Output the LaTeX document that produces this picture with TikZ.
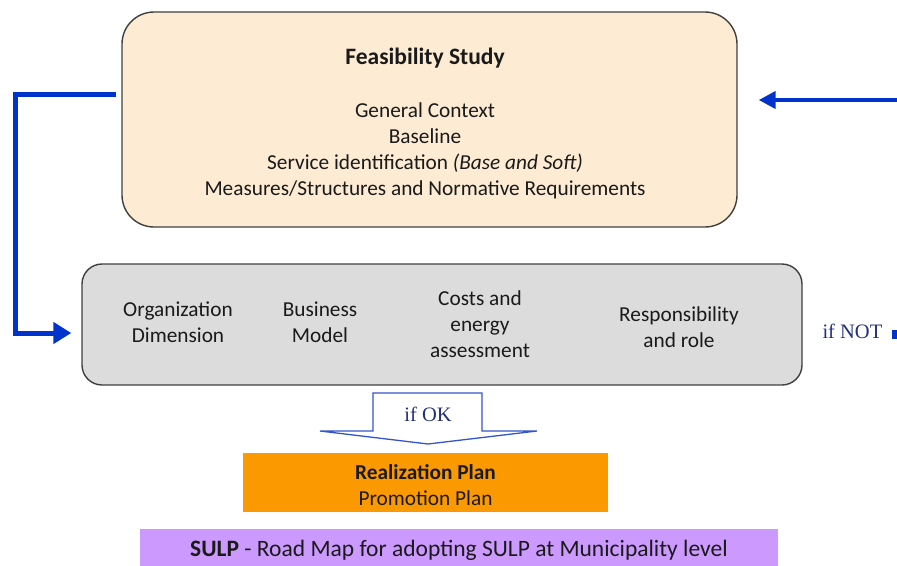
\documentclass[tikz,border=0pt]{standalone}
\usepackage{fontspec}
\setmainfont{Carlito}
\newfontfamily\serifnote{Liberation Serif}
\usetikzlibrary{arrows.meta,positioning}
\definecolor{peach}{HTML}{FDEBD4}
\definecolor{panelgray}{HTML}{DCDCDC}
\definecolor{planorange}{HTML}{FB9A00}
\definecolor{lavender}{HTML}{CC99FF}
\definecolor{flowblue}{HTML}{0033CC}
\definecolor{outlineblue}{HTML}{3355CC}
\definecolor{notenavy}{HTML}{22307A}
\definecolor{textdark}{HTML}{1A1A1A}
\tikzset{
  stagebox/.style={draw=black!75, line width=1.4pt, inner sep=0pt, text=textdark},
  body/.style={font=\fontsize{21.3}{26}\selectfont, align=center, text=textdark},
  flow/.style={draw=flowblue, line width=5pt},
  note/.style={font=\serifnote\fontsize{20.5}{22}\selectfont, text=notenavy},
}
\begin{document}
\begin{tikzpicture}[x=1pt,y=-1pt]
\useasboundingbox (0,0) rectangle (897,565);

% feasibility study panel
\node[stagebox, fill=peach, rounded corners=32pt, minimum width=615pt, minimum height=215pt]
  (fs) at (429.5,119.5) {};
\node[font=\bfseries\fontsize{23.5}{26}\selectfont, text=textdark] (fstitle) at (425,58) {Feasibility Study};
\node[body] (fsbody) at (425,151) {General Context\\Baseline\\Service identification \textit{(Base and Soft)}\\Measures/Structures and Normative Requirements};

% assessment dimensions panel
\node[stagebox, fill=panelgray, rounded corners=20pt, minimum width=720pt, minimum height=121pt]
  (dim) at (442,324.5) {};
\node[body] (org) at (178,322) {Organization\\Dimension};
\node[body] (biz) at (320,322) {Business\\Model};
\node[body] (cost) at (480,324) {Costs and\\energy\\assessment};
\node[body] (resp) at (679,327) {Responsibility\\and role};

% feedback loops
\coordinate (fsout) at (116,94);
\coordinate (leftrail) at (15,94);
\draw[flow, -{Triangle[length=18pt,width=21pt]}, line join=miter]
  (fsout) -- (leftrail) |- ([xshift=-10pt]dim.west |- 0,333);
\coordinate (retin) at (897,100);
\draw[draw=flowblue, line width=4pt, -{Triangle[length=17pt,width=17pt]}]
  (retin) -- ([xshift=21pt]fs.east |- retin);
\node[note, anchor=west] (ifnot) at (819,331) {if NOT};
\fill[flowblue] (892,330) rectangle (897,339);

% "if OK" block arrow
\draw[outlineblue, line width=1.3pt, fill=white, line join=miter]
  (373,431) -- (373,393) -- (482,393) -- (482,431) -- (537,431) -- (428,444) -- (320,431) -- cycle;
\node[note] (ifok) at (428,414) {if OK};

% plans
\node[fill=planorange, minimum width=365pt, minimum height=59pt, inner sep=0pt] (plan) at (425.5,482.5) {};
\node[body] (plantext) at (425.5,485) {\textbf{Realization Plan}\\Promotion Plan};
\node[fill=lavender, minimum width=638pt, minimum height=37pt, inner sep=0pt] (sulp) at (459,547) {};
\node[body, font=\fontsize{23.5}{26}\selectfont] (sulptext) at (459,550) {\textbf{SULP} - Road Map for adopting SULP at Municipality level};
\end{tikzpicture}
\end{document}
